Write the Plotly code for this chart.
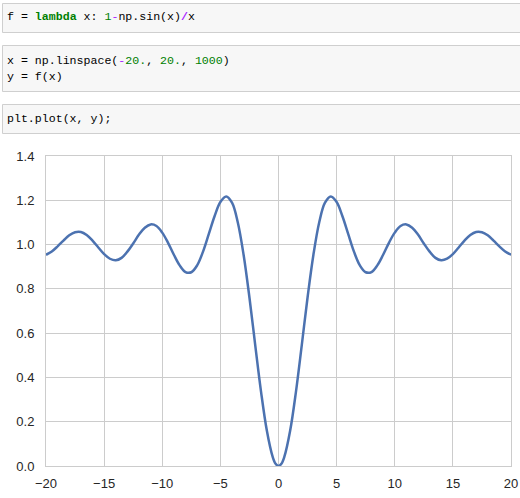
import plotly.graph_objects as go

# values
x_vals = [-20, -19.5, -19, -18.5, -18, -17.5, -17, -16.5, -16, -15.5, -15, -14.5, -14, -13.5, -13,
          -12.5, -12, -11.5, -11, -10.5, -10, -9.5, -9, -8.5, -8, -7.5, -7, -6.5, -6, -5.5, -5,
          -4.5, -4, -3.5, -3, -2.5, -2, -1.5, -1, -0.5, -0.25, 0,
          0.25, 0.5, 1, 1.5, 2, 2.5, 3, 3.5, 4, 4.5, 5, 5.5, 6, 6.5, 7, 7.5, 8, 8.5, 9, 9.5, 10,
          10.5, 11, 11.5, 12, 12.5, 13, 13.5, 14, 14.5, 15, 15.5, 16, 16.5, 17, 17.5, 18, 18.5,
          19, 19.5, 20]
y_vals = [0.954, 0.969, 0.992, 1.018, 1.042, 1.056, 1.057, 1.043, 1.018, 0.987, 0.957, 0.936, 0.929,
          0.940, 0.968, 1.005, 1.045, 1.076, 1.091, 1.084, 1.054, 1.008, 0.954, 0.906, 0.876,
          0.875, 0.906, 0.967, 1.047, 1.128, 1.192, 1.217, 1.189, 1.100, 0.953, 0.761, 0.545,
          0.335, 0.159, 0.041, 0.010, 0.0,
          0.010, 0.041, 0.159, 0.335, 0.545, 0.761, 0.953, 1.100, 1.189, 1.217, 1.192, 1.128,
          1.047, 0.967, 0.906, 0.875, 0.876, 0.906, 0.954, 1.008, 1.054, 1.084, 1.091, 1.076,
          1.045, 1.005, 0.968, 0.940, 0.929, 0.936, 0.957, 0.987, 1.018, 1.043, 1.057, 1.056,
          1.042, 1.018, 0.992, 0.969, 0.954]
x_ticks = [-20, -15, -10, -5, 0, 5, 10, 15, 20]
y_ticks = [0.0, 0.2, 0.4, 0.6, 0.8, 1.0, 1.2, 1.4]

code_lines = [
    "f = <b><span style='color:#008000'>lambda</span></b> x: <span style='color:#008000'>1</span>"
    "<span style='color:#aa22ff'>-</span>np.sin(x)<b><span style='color:#aa22ff'>/</span></b>x",
    "x = np.linspace(<span style='color:#aa22ff'>-</span><span style='color:#008000'>20.</span>, "
    "<span style='color:#008000'>20.</span>, <span style='color:#008000'>1000</span>)",
    "y = f(x)",
    "plt.plot(x, y);",
]
code_line_px = [17, 60, 76, 118]
cell_boxes_px = [(3.5, 32.5), (45.5, 91.5), (104.5, 133.5)]

W, H = 520, 498
L, R, T, B = 46, 9, 156, 32
pw, ph = W - L - R, H - T - B


def px_x(px):
    return (px - L) / pw


def px_y(py):
    return (H - B - py) / ph


fig = go.Figure()
fig.add_trace(go.Scatter(x=x_vals, y=y_vals, mode="lines",
                         line=dict(color="#4c72b0", width=2.5, shape="spline", smoothing=1.0),
                         showlegend=False, hoverinfo="skip"))

shapes = []
for (t, b) in cell_boxes_px:
    shapes.append(dict(type="rect", xref="paper", yref="paper",
                       x0=px_x(2.5), x1=px_x(530), y0=px_y(b), y1=px_y(t),
                       fillcolor="#f7f7f7", line=dict(color="#cfcfcf", width=1), layer="below"))

annotations = []
for txt, py in zip(code_lines, code_line_px):
    annotations.append(dict(text=txt, xref="paper", yref="paper", x=px_x(5), y=px_y(py),
                            xanchor="left", yanchor="middle", showarrow=False,
                            font=dict(family="Liberation Mono", size=11.6, color="#000000")))

fig.update_layout(
    width=W, height=H, margin=dict(l=L, r=R, t=T, b=B, autoexpand=False),
    paper_bgcolor="white", plot_bgcolor="white",
    shapes=shapes, annotations=annotations,
    font=dict(family="Liberation Sans, Arial", size=13, color="#262626"),
    xaxis=dict(range=[-20, 20], tickvals=x_ticks, showgrid=True, gridcolor="#cccccc", gridwidth=1,
               zeroline=False, showline=True, mirror=True, linecolor="#cccccc", linewidth=1,
               ticks="", ticklabelstandoff=5, automargin=False,
               tickfont=dict(size=13, color="#262626")),
    yaxis=dict(range=[0, 1.4], tickvals=y_ticks, tickformat=".1f", showgrid=True,
               gridcolor="#cccccc", gridwidth=1, zeroline=False, showline=True, mirror=True,
               linecolor="#cccccc", linewidth=1, ticks="", ticklabelstandoff=8, automargin=False,
               tickfont=dict(size=13, color="#262626")),
)

fig.write_html("out.html", config={"displayModeBar": False},
               post_script="document.body.style.margin='0';document.body.style.overflow='hidden';")
